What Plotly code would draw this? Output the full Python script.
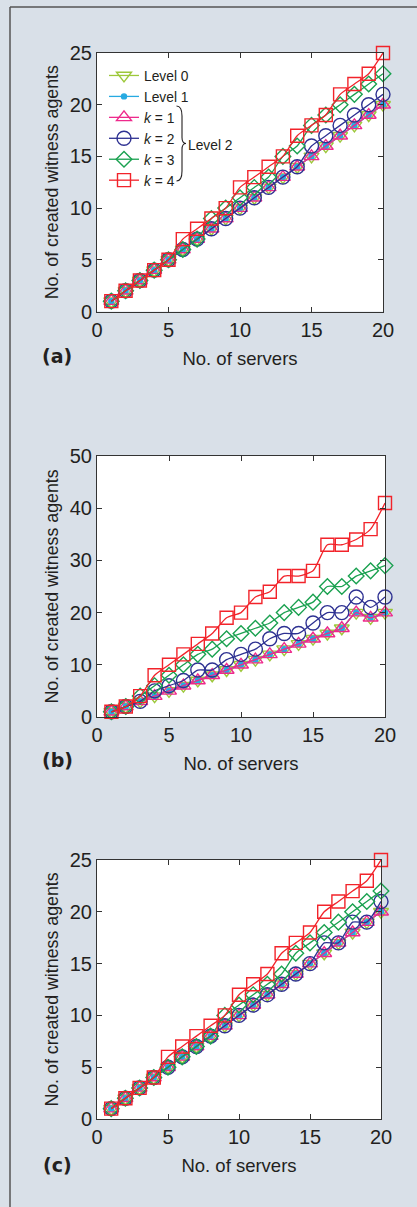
import plotly.graph_objects as go

servers = list(range(1, 21))

# Panel (a)
a_k1 = [1, 2, 3, 4, 5, 6, 7, 8, 9, 10, 11, 12, 13, 14, 15, 16, 17, 18, 19, 20]
a_level0 = [1, 2, 3, 4, 5, 6, 7, 8, 9, 10, 11, 12, 13, 14, 15, 16, 17, 18, 19, 20]
a_level1 = [1, 2, 3, 4, 5, 6, 7, 8, 9, 10, 11, 12, 13, 14, 15, 16, 17, 18, 19, 20]
a_k2 = [1, 2, 3, 4, 5, 6, 7, 8, 9, 10, 11, 12, 13, 14, 16, 17, 18, 19, 20, 21]
a_k3 = [1, 2, 3, 4, 5, 6, 7, 9, 10, 11, 12, 13, 15, 16, 18, 19, 20, 21, 22, 23]
a_k4 = [1, 2, 3, 4, 5, 7, 8, 9, 10, 12, 13, 14, 15, 17, 18, 19, 21, 22, 23, 25]

# Panel (b)
b_k1 = [1, 2, 3, 4, 5, 6, 7, 8, 9, 10, 11, 12, 13, 14, 15, 16, 17, 20, 19, 20]
b_level0 = [1, 2, 3, 4, 5, 6, 7, 8, 9, 10, 11, 12, 13, 14, 15, 16, 17, 20, 19, 20]
b_level1 = [1, 2, 3, 4, 5, 6, 7, 8, 9, 10, 11, 12, 13, 14, 15, 16, 17, 20, 19, 20]
b_k2 = [1, 2, 3, 5, 6, 7, 9, 9, 11, 12, 13, 15, 16, 16, 18, 20, 20, 23, 21, 23]
b_k3 = [1, 2, 4, 6, 8, 10, 12, 13, 15, 16, 17, 18, 20, 21, 22, 25, 25, 27, 28, 29]
b_k4 = [1, 2, 4, 8, 10, 12, 14, 16, 19, 20, 23, 24, 27, 27, 28, 33, 33, 34, 36, 41]

# Panel (c)
c_k1 = [1, 2, 3, 4, 5, 6, 7, 8, 9, 10, 11, 12, 13, 14, 15, 16, 17, 18, 19, 20]
c_level0 = [1, 2, 3, 4, 5, 6, 7, 8, 9, 10, 11, 12, 13, 14, 15, 16, 17, 18, 19, 20]
c_level1 = [1, 2, 3, 4, 5, 6, 7, 8, 9, 10, 11, 12, 13, 14, 15, 16, 17, 18, 19, 20]
c_k2 = [1, 2, 3, 4, 5, 6, 7, 8, 9, 10, 11, 12, 13, 14, 15, 17, 17, 19, 19, 21]
c_k3 = [1, 2, 3, 4, 5, 6, 7, 8, 10, 11, 12, 13, 14, 16, 17, 18, 19, 20, 21, 22]
c_k4 = [1, 2, 3, 4, 6, 7, 8, 9, 10, 12, 13, 14, 16, 17, 18, 20, 21, 22, 23, 25]

series_names = ["Level 0", "Level 1", "<i>k</i> = 1", "<i>k</i> = 2", "<i>k</i> = 3", "<i>k</i> = 4"]
colors = ["#9dc83a", "#27aae1", "#ee2a8c", "#2e3192", "#1aa150", "#f2232a"]
symbols = ["triangle-down-open", "circle", "triangle-up-open", "circle-open", "diamond-open", "square-open"]
msizes = [13, 5, 13, 14, 12, 13]

panels = [
    ("x", "y", [a_level0, a_level1, a_k1, a_k2, a_k3, a_k4]),
    ("x2", "y2", [b_level0, b_level1, b_k1, b_k2, b_k3, b_k4]),
    ("x3", "y3", [c_level0, c_level1, c_k1, c_k2, c_k3, c_k4]),
]

W, H = 417, 1207
ML, MR, MT, MB = 97, 32, 53, 88
PW = W - ML - MR
PH = H - MT - MB


def px2x(p):
    return (p - ML) / PW


def px2y(p):
    return (H - MB - p) / PH


fig = go.Figure()
for pi, (xa, ya, data) in enumerate(panels):
    for si, vals in enumerate(data):
        fig.add_trace(go.Scatter(
            x=servers, y=vals, xaxis=xa, yaxis=ya,
            mode="lines+markers",
            name=series_names[si],
            showlegend=(pi == 0),
            line=dict(color=colors[si], width=1.3, shape="spline", smoothing=0.6),
            marker=dict(symbol=symbols[si], size=msizes[si], color=colors[si],
                        line=dict(color=colors[si], width=1.4)),
            cliponaxis=False,
        ))

font_main = "Liberation Sans, Arial, sans-serif"
txt_color = "#231f20"


def xaxis_cfg(domain, anchor):
    return dict(domain=domain, anchor=anchor, range=[0, 20], tickvals=[0, 5, 10, 15, 20],
                ticks="inside", ticklen=5, tickcolor="#333333", mirror="ticks",
                showline=True, linecolor="#333333", linewidth=1, showgrid=False, zeroline=False,
                automargin=False,
                tickfont=dict(family=font_main, size=20, color=txt_color),
                title=dict(text="No. of servers", font=dict(family=font_main, size=18.5, color=txt_color),
                           standoff=12))


def yaxis_cfg(domain, anchor, rng, tv):
    return dict(domain=domain, anchor=anchor, range=rng, tickvals=tv,
                ticks="inside", ticklen=5, tickcolor="#333333", mirror="ticks",
                showline=True, linecolor="#333333", linewidth=1, showgrid=False, zeroline=False,
                automargin=False,
                tickfont=dict(family=font_main, size=20, color=txt_color),
                title=dict(text="No. of created witness agents",
                           font=dict(family=font_main, size=17.8, color=txt_color), standoff=6))


dom_a = [px2y(311.5), px2y(53)]
dom_b = [px2y(717), px2y(456)]
dom_c = [px2y(1119), px2y(860)]

fig.update_layout(
    width=W, height=H,
    margin=dict(l=ML, r=MR, t=MT, b=MB, autoexpand=False),
    paper_bgcolor="#d9e0e8",
    plot_bgcolor="#ffffff",
    xaxis=xaxis_cfg([0, px2x(383)], "y"),
    yaxis=yaxis_cfg(dom_a, "x", [0, 25], [0, 5, 10, 15, 20, 25]),
    xaxis2=xaxis_cfg([0, 1], "y2"),
    yaxis2=yaxis_cfg(dom_b, "x2", [0, 50], [0, 10, 20, 30, 40, 50]),
    xaxis3=xaxis_cfg([0, px2x(381)], "y3"),
    yaxis3=yaxis_cfg(dom_c, "x3", [0, 25], [0, 5, 10, 15, 20, 25]),
    legend=dict(x=px2x(104), y=px2y(60), xanchor="left", yanchor="top",
                bgcolor="rgba(0,0,0,0)", borderwidth=0, tracegroupgap=0,
                font=dict(family=font_main, size=13.8, color=txt_color), itemwidth=30),
    showlegend=True,
)

# brace for Level 2 group
bx0, bx1 = 176.5, 183
by0, by1 = 106, 181
bym = (by0 + by1) / 2
path = (f"M {px2x(bx0)},{px2y(by0)} "
        f"Q {px2x(bx1 - 1)},{px2y(by0)} {px2x(bx1 - 1)},{px2y(by0 + 10)} "
        f"L {px2x(bx1 - 1)},{px2y(bym - 6)} "
        f"Q {px2x(bx1 - 1)},{px2y(bym)} {px2x(bx1 + 3)},{px2y(bym)} "
        f"Q {px2x(bx1 - 1)},{px2y(bym)} {px2x(bx1 - 1)},{px2y(bym + 6)} "
        f"L {px2x(bx1 - 1)},{px2y(by1 - 10)} "
        f"Q {px2x(bx1 - 1)},{px2y(by1)} {px2x(bx0)},{px2y(by1)}")
shapes = [dict(type="path", xref="paper", yref="paper", path=path,
               line=dict(color=txt_color, width=1.1))]
# outer frame lines
shapes.append(dict(type="line", xref="paper", yref="paper", x0=px2x(10), x1=px2x(10),
                   y0=px2y(7), y1=px2y(1210), line=dict(color="#555555", width=1.5)))
shapes.append(dict(type="line", xref="paper", yref="paper", x0=px2x(10), x1=px2x(420),
                   y0=px2y(7), y1=px2y(7), line=dict(color="#555555", width=1.5)))
fig.update_layout(shapes=shapes)

annotations = [
    dict(text="Level 2", x=px2x(186), y=px2y(145), xref="paper", yref="paper",
         xanchor="left", yanchor="middle", showarrow=False,
         font=dict(family=font_main, size=13.8, color=txt_color)),
]
for lbl, yy in [("(a)", 356), ("(b)", 760), ("(c)", 1165)]:
    annotations.append(dict(text=f"<b>{lbl}</b>", x=px2x(57), y=px2y(yy), xref="paper", yref="paper",
                            xanchor="center", yanchor="middle", showarrow=False,
                            font=dict(family="DejaVu Sans", size=19, color=txt_color)))
fig.update_layout(annotations=annotations)

fig.write_html("out.html",
               config={"displayModeBar": False},
               post_script="document.body.style.margin='0';document.body.style.padding='0';")
